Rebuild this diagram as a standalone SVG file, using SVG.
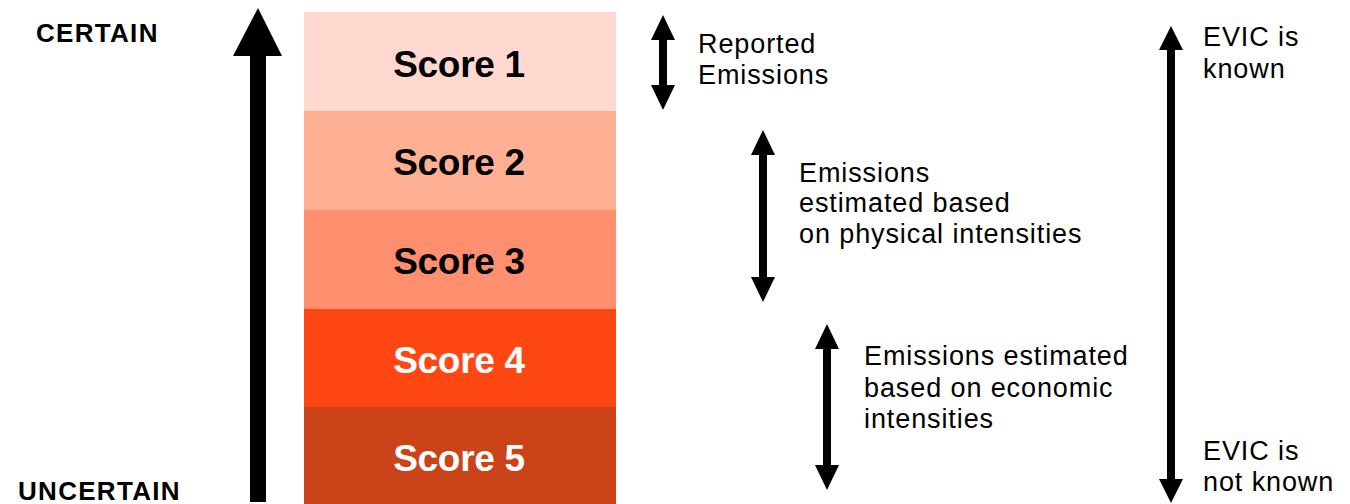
<svg xmlns="http://www.w3.org/2000/svg" width="1350" height="504" viewBox="0 0 1350 504">
<style>
.side{font-family:"Liberation Sans",Arial,sans-serif;font-weight:bold;font-size:26px;letter-spacing:1.3px;fill:#000}
.score{font-family:"Liberation Sans",Arial,sans-serif;font-weight:bold;font-size:37px;text-anchor:middle;letter-spacing:-0.3px}
.dark{fill:#000}
.light{fill:#fff}
.lbl{font-family:"Liberation Sans",Arial,sans-serif;font-size:27px;letter-spacing:0.9px;fill:#000}
.arr{fill:#000}
</style>
<rect width="1350" height="504" fill="#fff"/>
<g id="certain"><text class="side" x="36" y="42">CERTAIN</text></g>
<g id="uncertain"><text class="side" x="18" y="500">UNCERTAIN</text></g>
<g id="score1"><rect x="304" y="12" width="312" height="99" fill="#FFD9CF"/><text class="score dark" x="459" y="77">Score 1</text></g>
<g id="score2"><rect x="304" y="111" width="312" height="99" fill="#FFB092"/><text class="score dark" x="459" y="175">Score 2</text></g>
<g id="score3"><rect x="304" y="210" width="312" height="99" fill="#FF8F6F"/><text class="score dark" x="459" y="274">Score 3</text></g>
<g id="score4"><rect x="304" y="309" width="312" height="98" fill="#FF4713"/><text class="score light" x="459" y="373">Score 4</text></g>
<g id="score5"><rect x="304" y="407" width="312" height="97" fill="#CB4318"/><text class="score light" x="459" y="471">Score 5</text></g>
<g id="label-reported"><text class="lbl" x="698" y="53">Reported</text><text class="lbl" x="698" y="84">Emissions</text></g>
<g id="label-physical"><text class="lbl" x="799" y="182">Emissions</text><text class="lbl" x="799" y="212">estimated based</text><text class="lbl" x="799" y="243">on physical intensities</text></g>
<g id="label-economic"><text class="lbl" x="864" y="365">Emissions estimated</text><text class="lbl" x="864" y="397">based on economic</text><text class="lbl" x="864" y="428">intensities</text></g>
<g id="label-evic-known"><text class="lbl" x="1203" y="46">EVIC is</text><text class="lbl" x="1203" y="78">known</text></g>
<g id="label-evic-unknown"><text class="lbl" x="1203" y="460">EVIC is</text><text class="lbl" x="1203" y="491">not known</text></g>
<g id="connectors">
<polygon class="arr" points="258,8 282,56 266,56 266,502 250,502 250,56 233,56"/>
<polygon class="arr" points="663,15 675,40 667,40 667,85 675,85 663,110 651,85 659,85 659,40 651,40"/>
<polygon class="arr" points="763,130 775,155 767,155 767,277 775,277 763,302 751,277 759,277 759,155 751,155"/>
<polygon class="arr" points="827,324 839,349 831,349 831,465 839,465 827,490 815,465 823,465 823,349 815,349"/>
<polygon class="arr" points="1171,26 1183,50 1175,50 1175,479 1183,479 1171,503 1159,479 1167,479 1167,50 1159,50"/>
</g>
</svg>
